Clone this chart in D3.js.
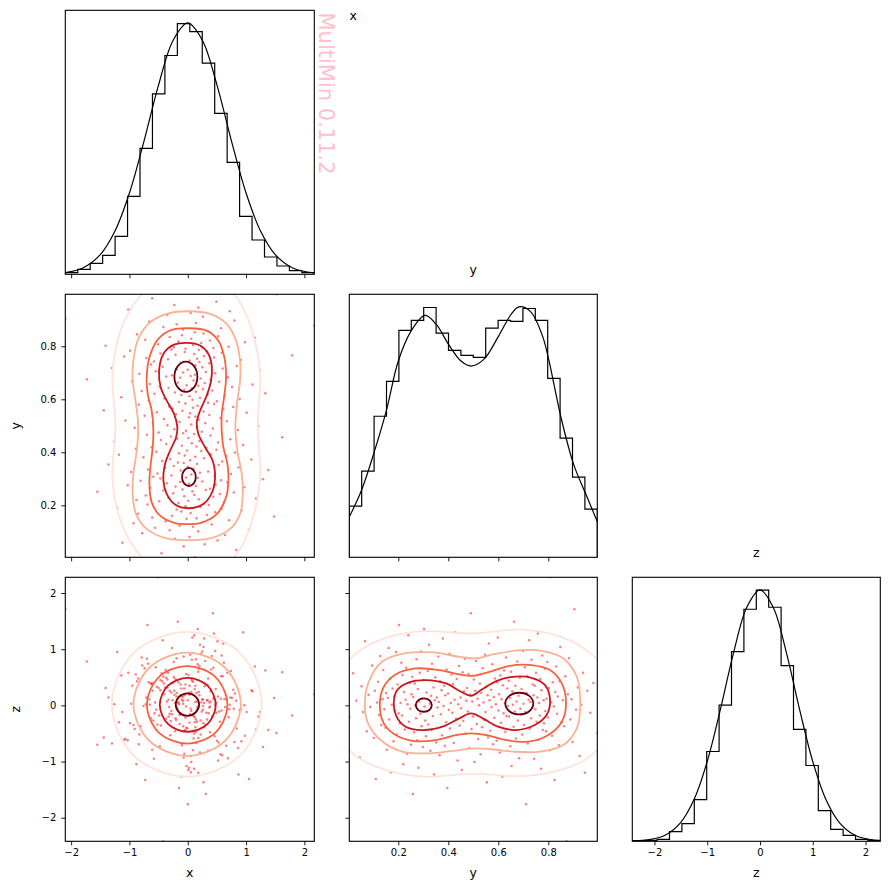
<!DOCTYPE html>
<html><head><meta charset="utf-8">
<script src="https://cdn.jsdelivr.net/npm/d3@7"></script>
<style>body{margin:0;background:#fff}svg{display:block}text{font-family:"DejaVu Sans",sans-serif}</style>
</head><body><svg id="c" width="889" height="890"></svg>
<script>
// ---------- data ----------
const varNames = ["x", "y", "z"];
const xTicks = [-2, -1, 0, 1, 2];
const yTicks = [0.2, 0.4, 0.6, 0.8];
const zTicks = [-2, -1, 0, 1, 2];

// sample values (x, y, z) estimated from the scatter panels
const xs = [
 0.12,-0.45,0.83,-0.07,0.29,-1.12,0.51,-0.22,0.03,0.64,-0.78,0.18,-0.31,1.05,-0.56,0.09,-0.14,0.41,-0.93,0.26,
 -0.38,0.71,-0.02,0.15,-0.61,1.48,-0.27,0.33,-0.85,0.05,0.47,-0.11,0.92,-0.19,0.58,-1.21,0.22,-0.04,0.36,-0.69,
 0.27,-0.16,0.62,-0.49,0.01,-0.88,0.19,1.17,-0.33,0.44,-0.06,-0.72,0.11,0.55,-0.25,0.79,-1.55,0.08,-0.42,0.31,
 -0.09,0.38,-0.64,0.97,-0.21,0.14,-1.03,0.48,0.02,-0.36,0.68,-0.13,0.25,-0.81,0.57,1.29,-0.47,0.17,-0.03,-0.59,
 0.46,-0.28,0.06,0.74,-0.52,0.21,-0.97,0.35,-0.12,1.38,-0.68,0.10,-0.39,0.87,0.00,-0.24,0.53,-1.36,0.16,-0.07,
 -0.17,0.59,-0.44,0.04,1.09,-0.30,0.28,-0.76,0.13,0.66,-0.05,-1.18,0.40,-0.15,0.81,-0.54,0.23,-0.01,0.49,-0.89,
 0.32,-0.62,0.15,-0.10,0.95,-0.37,0.07,0.52,-1.26,0.20,-0.46,0.73,-0.18,0.01,1.62,-0.29,0.39,-0.70,0.11,-0.08,
 -0.50,0.24,-0.03,0.86,-0.23,0.43,-0.91,0.16,1.21,-0.35,0.06,-0.60,0.30,-0.14,0.67,-1.07,0.19,-0.41,0.56,0.02,
 0.13,-0.74,0.37,-0.20,0.04,1.01,-0.53,0.27,-0.09,-1.44,0.61,-0.26,0.09,0.78,-0.32,0.17,-0.84,0.45,-0.04,0.35,
 -0.15,0.50,-0.67,0.08,0.89,-0.40,0.21,-1.14,0.03,0.63,-0.11,0.34,-0.57,1.33,-0.22,0.14,-0.79,0.42,-0.06,0.26,
 0.07,-0.33,0.76,-0.48,0.18,-0.02,1.11,-0.65,0.29,-0.17,0.54,-0.95,0.10,0.39,-1.73,0.22,-0.13,0.69,-0.37,0.05,
 -0.27,0.12,-0.83,0.47,-0.08,0.31,-0.55,1.24,0.00,-0.19,0.60,-1.30,0.25,-0.43,0.84,0.13,-0.63,0.07,0.37,-0.12,
 0.20,-0.58,0.03,0.91,-0.34,0.16,-0.71,0.45,-1.09,0.28,1.79,-0.21,0.11,-0.47,0.58,-0.05,0.33,-0.99,0.19,-0.28,
 -0.04,0.44,-0.24,0.70,-1.41,0.09,-0.51,0.23,0.98,-0.16,0.38,-0.73,0.06,1.15,-0.31,0.52,-0.10,-0.87,0.27,0.12,
 0.34,-0.08,0.57,-0.42,2.17,-0.19,0.14,-0.66,0.80,-2.10,0.26,-0.35,0.05,0.72,-1.02,0.18,-0.23,0.49,-0.61,1.52
];
const ys = [
 0.004,0.019,0.032,0.046,
 0.053,0.059,0.067,0.074,0.081,0.088,0.095,
 0.102,0.106,0.110,0.115,0.119,0.123,0.128,0.132,0.137,0.140,0.144,0.149,
 0.151,0.154,0.158,0.161,0.164,0.168,0.171,0.174,0.177,0.181,0.184,0.187,0.191,0.194,0.197,
 0.201,0.203,0.206,0.209,0.212,0.215,0.217,0.220,0.223,0.226,0.229,0.232,0.234,0.237,0.240,0.243,0.246,0.248,
 0.251,0.253,0.256,0.258,0.260,0.263,0.266,0.268,0.271,0.273,0.276,0.278,0.281,0.283,0.286,0.288,0.290,0.293,0.295,0.298,
 0.301,0.303,0.305,0.308,0.311,0.313,0.316,0.318,0.320,0.323,0.326,0.328,0.331,0.333,0.335,0.338,0.341,0.343,0.346,0.348,
 0.352,0.354,0.357,0.360,0.362,0.365,0.367,0.370,0.373,0.375,0.378,0.381,0.383,0.386,0.388,0.391,0.393,0.396,0.399,
 0.402,0.405,0.407,0.410,0.413,0.416,0.419,0.422,0.425,0.428,0.431,0.434,0.437,0.440,0.443,0.446,0.449,
 0.451,0.454,0.457,0.460,0.463,0.466,0.469,0.472,0.475,0.478,0.481,0.484,0.487,0.490,0.493,0.496,0.499,
 0.502,0.505,0.508,0.511,0.514,0.517,0.520,0.523,0.526,0.529,0.532,0.535,0.538,0.541,0.544,0.547,0.549,
 0.551,0.554,0.557,0.559,0.562,0.565,0.568,0.571,0.573,0.576,0.579,0.582,0.584,0.587,0.590,0.593,0.595,0.598,
 0.601,0.603,0.606,0.608,0.611,0.613,0.616,0.618,0.621,0.623,0.626,0.628,0.631,0.633,0.636,0.638,0.641,0.643,0.646,0.648,
 0.651,0.653,0.656,0.658,0.661,0.663,0.666,0.668,0.671,0.673,0.676,0.678,0.681,0.683,0.686,0.688,0.691,0.693,0.696,0.698,
 0.701,0.703,0.706,0.708,0.711,0.713,0.716,0.718,0.721,0.723,0.726,0.728,0.731,0.733,0.736,0.738,0.741,0.743,0.746,0.748,
 0.751,0.753,0.756,0.758,0.761,0.763,0.766,0.768,0.771,0.773,0.776,0.778,0.781,0.783,0.786,0.788,0.791,0.793,0.796,0.798,
 0.802,0.805,0.808,0.812,0.815,0.818,0.822,0.825,0.828,0.832,0.835,0.838,0.842,0.845,0.848,
 0.853,0.858,0.863,0.868,0.873,0.878,0.883,0.888,0.893,0.897,
 0.904,0.911,0.918,0.925,0.932,0.939,0.946,
 0.956,0.968,0.981,0.996
];
const zs = [
 -0.21,0.57,0.08,-0.93,0.34,-0.12,1.14,-0.46,0.19,-0.03,0.71,-0.58,0.26,-1.31,0.05,0.42,-0.17,0.88,-0.35,0.11,
 0.63,-0.07,-0.40,0.22,-0.79,0.13,1.02,-0.25,0.48,-1.19,0.01,0.30,-0.64,0.16,-0.09,0.95,-0.52,0.37,-0.14,1.43,
 -0.32,0.04,0.76,-0.18,0.54,-1.05,0.24,-0.43,0.10,0.67,-0.86,0.02,1.25,-0.29,0.40,-0.06,-0.70,0.20,0.51,-1.58,
 0.15,-0.48,0.39,0.00,-0.23,0.82,-0.62,0.29,-1.11,0.07,0.58,-0.15,0.96,-0.37,0.12,-0.74,0.45,1.36,-0.02,-0.27,
 -0.55,0.23,-0.10,0.61,-0.34,1.08,0.03,-0.81,0.17,-0.44,0.74,-0.19,0.32,-1.23,0.09,0.50,-0.66,0.14,-0.04,0.87,
 0.06,-0.89,0.43,-0.16,0.27,-0.53,1.19,-0.01,0.35,-0.72,0.18,-0.30,0.64,-1.47,0.21,-0.08,0.92,-0.41,0.04,0.55,
 -0.13,0.38,-0.67,0.10,1.30,-0.24,0.47,-0.98,0.02,0.70,-0.36,0.14,-0.05,-1.15,0.59,-0.28,0.25,0.83,-0.50,0.08,
 0.31,-0.11,0.56,-0.76,0.19,1.64,-0.42,0.07,-0.20,0.46,-1.01,0.26,0.79,-0.33,0.12,-0.60,0.00,0.39,-0.87,0.22,
 -0.39,0.66,0.05,-0.26,0.90,-0.12,0.33,-1.37,0.18,-0.57,1.10,0.09,-0.45,0.28,-0.03,0.73,-0.69,0.15,-0.22,0.48,
 0.02,-0.63,0.41,1.21,-0.09,0.20,-0.84,0.53,-0.31,0.11,-1.27,0.36,-0.14,0.62,0.04,-0.47,0.85,-0.19,0.30,-0.01,
 0.44,-0.20,0.13,-0.73,0.60,-1.08,0.25,0.01,-0.38,1.49,-0.11,0.35,-0.59,0.07,0.78,-0.27,0.17,-0.94,0.49,-0.06,
 -0.16,0.29,-0.52,0.97,0.03,-0.35,0.68,-0.12,-1.76,0.22,0.52,-0.68,0.10,1.16,-0.41,0.06,-0.23,0.81,-0.04,0.37,
 0.18,-0.95,0.35,-0.07,0.58,-0.29,0.14,1.28,-0.61,0.04,-0.18,0.47,-1.13,0.27,0.89,-0.44,0.09,-0.32,0.65,-0.10,
 -0.46,0.12,0.77,-0.21,0.31,-0.80,2.28,0.05,-0.54,0.41,-0.02,-1.33,0.24,0.69,-0.15,0.16,-0.71,0.43,1.04,-0.30,
 0.09,-0.37,0.52,-2.42,0.20,0.84,-0.25,0.11,-0.65,1.71,-0.08,0.32,-0.90,0.01,0.58,-1.20,0.26,-0.13,0.40,-0.49
];

// histogram heights (20 equal bins across each variable's range)
const xHist = [5,15,33,57,114,234,378,542,657,753,729,634,483,336,174,103,52,25,11,5];
const yHist = [154,259,424,529,682,712,751,674,622,607,601,689,712,709,748,712,538,358,241,145];
const zHist = [1,3,6,29,53,125,269,408,568,695,752,701,526,335,227,92,36,18,6,2];

// smooth density curves (value, height)
const xCurveX = [-2.10,-1.8,-1.5,-1.25,-1.0,-0.75,-0.5,-0.25,0,0.25,0.5,0.75,1.0,1.25,1.5,1.8,2.17];
const xCurveH = [5,19,59,129,244,400,569,703,755,703,569,400,244,129,59,19,4];
const yCurveX = [0.003,0.052,0.101,0.152,0.200,0.251,0.307,0.352,0.401,0.451,0.491,0.542,0.601,0.651,0.683,0.730,0.777,0.800,0.851,0.901,0.950,1.0];
const yCurveH = [120,200,310,440,590,680,727,700,640,590,575,595,665,730,753,738,665,600,420,280,190,100];
const zCurveX = [-2.41,-2.1,-1.8,-1.5,-1.25,-1.0,-0.75,-0.5,-0.25,0,0.25,0.5,0.75,1.0,1.25,1.5,1.8,2.1,2.27];
const zCurveH = [1,5,18,57,125,239,395,565,701,753,701,565,395,239,125,57,18,5,3];

// contour lines (outer -> inner), data coordinates
const levelColors = ["#fee4d8", "#fcb094", "#f9603f", "#c9171d", "#67000d"];
const xyContours = [
 [[0,1.07],[0.45,1.05],[0.85,0.98],[1.1,0.86],[1.24,0.7],[1.2,0.5],[1.24,0.3],[1.1,0.14],[0.85,0.02],[0.45,-0.05],[0,-0.07],[-0.45,-0.05],[-0.85,0.02],[-1.15,0.14],[-1.29,0.3],[-1.24,0.5],[-1.29,0.7],[-1.15,0.86],[-0.85,0.98],[-0.45,1.05]],
 [[0.011,0.932],[0.383,0.922],[0.668,0.884],[0.828,0.821],[0.897,0.746],[0.897,0.670],[0.851,0.595],[0.817,0.494],[0.851,0.406],[0.926,0.318],[0.943,0.243],[0.897,0.167],[0.726,0.111],[0.383,0.075],[0.011,0.069],[-0.361,0.075],[-0.704,0.111],[-0.887,0.167],[-0.944,0.243],[-0.933,0.318],[-0.875,0.406],[-0.848,0.494],[-0.887,0.582],[-0.944,0.670],[-0.933,0.746],[-0.848,0.828],[-0.647,0.890],[-0.332,0.924]],
 [[0.011,0.868],[0.325,0.859],[0.525,0.821],[0.628,0.758],[0.657,0.683],[0.623,0.607],[0.583,0.545],[0.583,0.482],[0.611,0.419],[0.680,0.356],[0.697,0.293],[0.657,0.230],[0.497,0.167],[0.211,0.133],[0.011,0.129],[-0.218,0.133],[-0.475,0.161],[-0.618,0.211],[-0.658,0.280],[-0.635,0.356],[-0.601,0.419],[-0.590,0.482],[-0.618,0.557],[-0.687,0.620],[-0.704,0.683],[-0.658,0.758],[-0.504,0.828],[-0.275,0.862]],
 [[-0.006,0.813],[0.211,0.803],[0.354,0.771],[0.411,0.727],[0.400,0.670],[0.325,0.614],[0.211,0.557],[0.154,0.513],[0.182,0.469],[0.297,0.419],[0.428,0.368],[0.468,0.318],[0.428,0.255],[0.268,0.205],[0.011,0.189],[-0.218,0.203],[-0.361,0.243],[-0.418,0.293],[-0.389,0.356],[-0.304,0.406],[-0.201,0.456],[-0.178,0.494],[-0.235,0.545],[-0.361,0.595],[-0.464,0.645],[-0.492,0.708],[-0.418,0.771],[-0.246,0.805]],
 [[0.165,0.685],[0.107,0.725],[-0.032,0.742],[-0.171,0.725],[-0.229,0.685],[-0.171,0.645],[-0.032,0.628],[0.107,0.645]],
 [[0.138,0.307],[0.103,0.331],[0.02,0.341],[-0.063,0.331],[-0.098,0.307],[-0.063,0.283],[0.02,0.273],[0.103,0.283]]
];
const xyLevels = [0,1,2,3,4,4];
const xzContours = [
 [[1.27,0.02],[0.90,0.93],[-0.015,1.31],[-0.93,0.93],[-1.30,0.02],[-0.93,-0.89],[-0.015,-1.27],[0.90,-0.89]],
 [[0.91,0.02],[0.64,0.67],[-0.01,0.94],[-0.66,0.67],[-0.93,0.02],[-0.66,-0.63],[-0.01,-0.90],[0.64,-0.63]],
 [[0.68,0.01],[0.48,0.50],[-0.01,0.70],[-0.50,0.50],[-0.70,0.01],[-0.50,-0.48],[-0.01,-0.68],[0.48,-0.48]],
 [[0.48,0.01],[0.34,0.35],[0,0.49],[-0.34,0.35],[-0.48,0.01],[-0.34,-0.33],[0,-0.47],[0.34,-0.33]],
 [[0.194,0.014],[0.135,0.155],[-0.006,0.214],[-0.147,0.155],[-0.206,0.014],[-0.147,-0.127],[-0.006,-0.186],[0.135,-0.127]]
];
const xzLevels = [0,1,2,3,4];
const yzContours = [
 [[-0.06,0],[-0.04,0.5],[0.03,0.92],[0.15,1.2],[0.3,1.32],[0.5,1.28],[0.7,1.35],[0.85,1.22],[0.97,0.92],[1.04,0.5],[1.06,0],[1.04,-0.5],[0.97,-0.9],[0.85,-1.15],[0.7,-1.26],[0.5,-1.22],[0.3,-1.27],[0.15,-1.15],[0.03,-0.9],[-0.04,-0.5]],
 [[0.066,0.035],[0.082,0.420],[0.135,0.776],[0.223,0.924],[0.337,0.942],[0.444,0.865],[0.511,0.835],[0.578,0.906],[0.686,0.983],[0.780,0.965],[0.860,0.835],[0.914,0.509],[0.928,0.035],[0.914,-0.409],[0.860,-0.706],[0.766,-0.824],[0.659,-0.824],[0.565,-0.777],[0.498,-0.765],[0.417,-0.812],[0.323,-0.854],[0.216,-0.824],[0.129,-0.617],[0.079,-0.321]],
 [[0.126,0.005],[0.142,0.331],[0.189,0.551],[0.270,0.657],[0.364,0.628],[0.444,0.551],[0.498,0.527],[0.565,0.598],[0.646,0.705],[0.733,0.716],[0.807,0.628],[0.854,0.391],[0.871,0.035],[0.854,-0.291],[0.800,-0.528],[0.719,-0.647],[0.632,-0.617],[0.552,-0.528],[0.491,-0.498],[0.431,-0.528],[0.350,-0.617],[0.263,-0.635],[0.189,-0.528],[0.142,-0.321]],
 [[0.182,0.053],[0.196,0.272],[0.243,0.408],[0.310,0.450],[0.391,0.391],[0.451,0.242],[0.491,0.171],[0.531,0.272],[0.592,0.432],[0.659,0.509],[0.733,0.491],[0.787,0.361],[0.807,0.094],[0.793,-0.172],[0.746,-0.350],[0.672,-0.439],[0.599,-0.380],[0.538,-0.232],[0.491,-0.143],[0.444,-0.232],[0.377,-0.380],[0.297,-0.439],[0.229,-0.380],[0.193,-0.202]],
 [[0.334,0.005],[0.325,0.089],[0.302,0.124],[0.279,0.089],[0.270,0.005],[0.279,-0.079],[0.302,-0.114],[0.325,-0.079]],
 [[0.740,0.032],[0.724,0.168],[0.684,0.225],[0.644,0.168],[0.628,0.032],[0.644,-0.104],[0.684,-0.161],[0.724,-0.104]]
];
const yzLevels = [0,1,2,3,4,4];

// ---------- layout ----------
const cols = [[65.3,314.3],[349.3,597.3],[632.3,880.3]];
const rows = [[10.3,274.3],[294.3,557.3],[577.3,841.3]];
const svg = d3.select("#c");
const n = Math.min(xs.length, ys.length, zs.length);
const vals = [xs.slice(0,n), ys.slice(0,n), zs.slice(0,n)];
const doms = vals.map(v => d3.extent(v));
const ticks = [xTicks, yTicks, zTicks];
const fmts = [d3.format("d"), d3.format(".1f"), d3.format("d")];
const hists = [xHist, yHist, zHist];
const curves = [[xCurveX,xCurveH],[yCurveX,yCurveH],[zCurveX,zCurveH]];
const hScale = i => d3.scaleLinear().domain(doms[i]).range(cols[i]);
const vScale = i => d3.scaleLinear().domain(doms[i]).range([rows[i][1], rows[i][0]]);
const defs = svg.append("defs");

function clipFor(r, c) {
  const id = "clip" + r + c;
  defs.append("clipPath").attr("id", id).append("rect")
    .attr("x", cols[c][0]).attr("y", rows[r][0])
    .attr("width", cols[c][1]-cols[c][0]).attr("height", rows[r][1]-rows[r][0]);
  return "url(#" + id + ")";
}
function styleAxis(g) {
  g.select(".domain").remove();
  g.selectAll(".tick line").attr("stroke", "#000").attr("stroke-width", 0.9);
  g.selectAll(".tick text").attr("fill", "#000").attr("font-size", 10).attr("font-family", "DejaVu Sans");
}
function bottomAxis(r, c, labels) {
  const ax = d3.axisBottom(hScale(c)).tickValues(ticks[c]).tickSize(4).tickPadding(4)
    .tickFormat(labels ? fmts[c] : "");
  svg.append("g").attr("transform", `translate(0,${rows[r][1]})`).call(ax).call(styleAxis);
}
function leftAxis(r, c, labels) {
  const ax = d3.axisLeft(vScale(r)).tickValues(ticks[r]).tickSize(4).tickPadding(5)
    .tickFormat(labels ? fmts[r] : "");
  svg.append("g").attr("transform", `translate(${cols[c][0]},0)`).call(ax).call(styleAxis);
}
function frame(r, c) {
  svg.append("rect").attr("x", cols[c][0]).attr("y", rows[r][0])
    .attr("width", cols[c][1]-cols[c][0]).attr("height", rows[r][1]-rows[r][0])
    .attr("fill", "none").attr("stroke", "#000").attr("stroke-width", 1.1);
}

const contourSets = { "10": [xyContours, xyLevels], "20": [xzContours, xzLevels], "21": [yzContours, yzLevels] };
const closedLine = d3.line().curve(d3.curveCatmullRomClosed.alpha(0.5));

for (let r = 0; r < 3; r++) {
  for (let c = 0; c <= r; c++) {
    const clip = clipFor(r, c);
    const g = svg.append("g").attr("clip-path", clip);
    if (r === c) {
      const X = hScale(c);
      const counts = hists[c];
      const [cx, ch] = curves[c];
      const top = Math.max(d3.max(counts), d3.max(ch)) * 1.05;
      const Y = d3.scaleLinear().domain([0, top]).range([rows[r][1], rows[r][0]]);
      const edges = d3.range(counts.length + 1).map(k => doms[c][0] + k * (doms[c][1]-doms[c][0]) / counts.length);
      const pts = [[edges[0], 0]];
      counts.forEach((v, k) => pts.push([edges[k], v]));
      pts.push([edges[counts.length], counts[counts.length-1]]);
      pts.push([edges[counts.length], 0]);
      g.append("path").attr("d", d3.line().curve(d3.curveStepAfter).x(d => X(d[0])).y(d => Y(d[1]))(pts))
        .attr("fill", "none").attr("stroke", "#000").attr("stroke-width", 1.2);
      const cp = cx.map((v, k) => [v, ch[k]]);
      g.append("path").attr("d", d3.line().curve(d3.curveCatmullRom.alpha(0.5)).x(d => X(d[0])).y(d => Y(d[1]))(cp))
        .attr("fill", "none").attr("stroke", "#000").attr("stroke-width", 1.2);
    } else {
      const X = hScale(c), Y = vScale(r);
      g.append("g").selectAll("circle").data(d3.range(n)).join("circle")
        .attr("cx", k => X(vals[c][k])).attr("cy", k => Y(vals[r][k]))
        .attr("r", 1.25).attr("fill", "#ff0000").attr("fill-opacity", 0.5);
      const [sets, lv] = contourSets["" + r + c];
      sets.forEach((poly, k) => {
        g.append("path").attr("d", closedLine(poly.map(p => [X(p[0]), Y(p[1])])))
          .attr("fill", "none").attr("stroke", levelColors[lv[k]]).attr("stroke-width", 1.8);
      });
    }
    bottomAxis(r, c, r === 2);
    if (r !== c) leftAxis(r, c, c === 0);
    frame(r, c);
  }
}

// axis labels
const lab = (x, y, t, rot) => svg.append("text").attr("transform", `translate(${x},${y})` + (rot ? ` rotate(${rot})` : ""))
  .attr("text-anchor", "middle").attr("font-size", 12.5).attr("fill", "#000").text(t);
for (let c = 0; c < 3; c++) lab((cols[c][0]+cols[c][1])/2, 877, varNames[c]);
lab(20, (rows[1][0]+rows[1][1])/2, varNames[1], -90);
lab(20, (rows[2][0]+rows[2][1])/2, varNames[2], -90);
// titles
lab(353.3, 20, varNames[0]);
lab((cols[1][0]+cols[1][1])/2, 274, varNames[1]);
lab((cols[2][0]+cols[2][1])/2, 557, varNames[2]);
// watermark
svg.append("text").attr("transform", "translate(318.5,12.5) rotate(90)")
  .attr("font-size", 21).attr("fill", "#ffc0cb").attr("text-anchor", "start").text("MultiMin 0.11.2");
</script></body></html>
